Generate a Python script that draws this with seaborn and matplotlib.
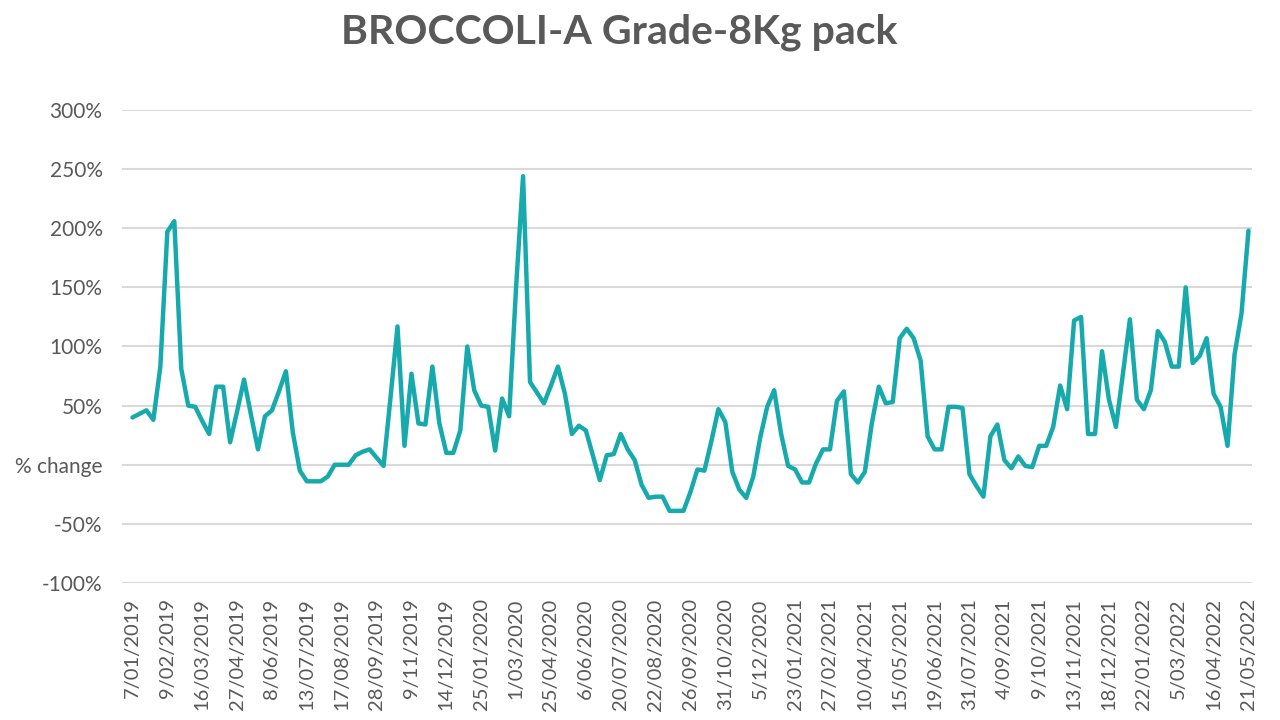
import numpy as np
import pandas as pd
import matplotlib
matplotlib.use('Agg')
import matplotlib.pyplot as plt
import seaborn as sns

# 数据
values = [40, 43, 46, 38, 83, 197, 206, 81, 50, 49,
          37, 26, 66, 66, 19, 45, 72, 42, 13, 41,
          46, 62, 79, 27, -5, -14, -14, -14, -10, 0,
          0, 0, 8, 11, 13, 6, -1, 57, 117, 16,
          77, 35, 34, 83, 35, 10, 10, 29, 100, 63,
          50, 49, 12, 56, 41, 150, 244, 70, 61, 52,
          67, 83, 60, 26, 33, 29, 8, -13, 8, 9,
          26, 13, 4, -17, -28, -27, -27, -39, -39, -39,
          -23, -4, -5, 20, 47, 36, -6, -21, -28, -10,
          23, 49, 63, 26, -1, -4, -15, -15, 1, 13,
          13, 54, 62, -8, -15, -6, 35, 66, 52, 53,
          107, 115, 107, 88, 24, 13, 13, 49, 49, 48,
          -8, -18, -27, 24, 34, 4, -3, 7, -1, -2,
          16, 16, 32, 67, 47, 122, 125, 26, 26, 96,
          55, 32, 77, 123, 55, 47, 63, 113, 104, 83,
          83, 150, 86, 92, 107, 60, 49, 16, 93, 128,
          198]

tick_labels = ['7/01/2019', '9/02/2019', '16/03/2019', '27/04/2019', '8/06/2019',
               '13/07/2019', '17/08/2019', '28/09/2019', '9/11/2019', '14/12/2019',
               '25/01/2020', '1/03/2020', '25/04/2020', '6/06/2020', '20/07/2020',
               '22/08/2020', '26/09/2020', '31/10/2020', '5/12/2020', '23/01/2021',
               '27/02/2021', '10/04/2021', '15/05/2021', '19/06/2021', '31/07/2021',
               '4/09/2021', '9/10/2021', '13/11/2021', '18/12/2021', '22/01/2022',
               '5/03/2022', '16/04/2022', '21/05/2022']

y_ticks = [-100, -50, 0, 50, 100, 150, 200, 250, 300]
y_labels = ['-100%', '-50%', '% change', '50%', '100%', '150%', '200%', '250%', '300%']

df = pd.DataFrame({'idx': np.arange(len(values)), 'change': values})

sns.set_theme(style='white')
plt.rcParams['font.family'] = ['Lato', 'DejaVu Sans']

fig = plt.figure(figsize=(12.8, 7.2), dpi=100)
ax = fig.add_axes([0.0953, 0.1903, 0.8828, 0.6569])

# 网格线
for y in y_ticks:
    ax.axhline(y, color='#D9D9D9', linewidth=1.5, zorder=0)

sns.lineplot(data=df, x='idx', y='change', ax=ax, color='#17AAAD', linewidth=3.2)

ax.set_xlim(-1.5, len(values) - 0.5)
ax.set_ylim(-100, 300)
ax.set_yticks(y_ticks)
ax.set_yticklabels(y_labels, fontsize=15, color='#595959')
ax.set_xticks(np.arange(0, len(values), 5))
ax.set_xticklabels(tick_labels, rotation=90, fontsize=14.5, color='#595959')
ax.tick_params(axis='y', length=0, pad=14)
ax.tick_params(axis='x', length=0, pad=11)
ax.set_xlabel('')
ax.set_ylabel('')
for s in ax.spines.values():
    s.set_visible(False)

fig.text(619 / 1280, 0.955, 'BROCCOLI-A Grade-8Kg pack', ha='center', va='center',
         fontsize=29.5, fontweight='bold', color='#595959')

fig.savefig('out.png', dpi=100)
